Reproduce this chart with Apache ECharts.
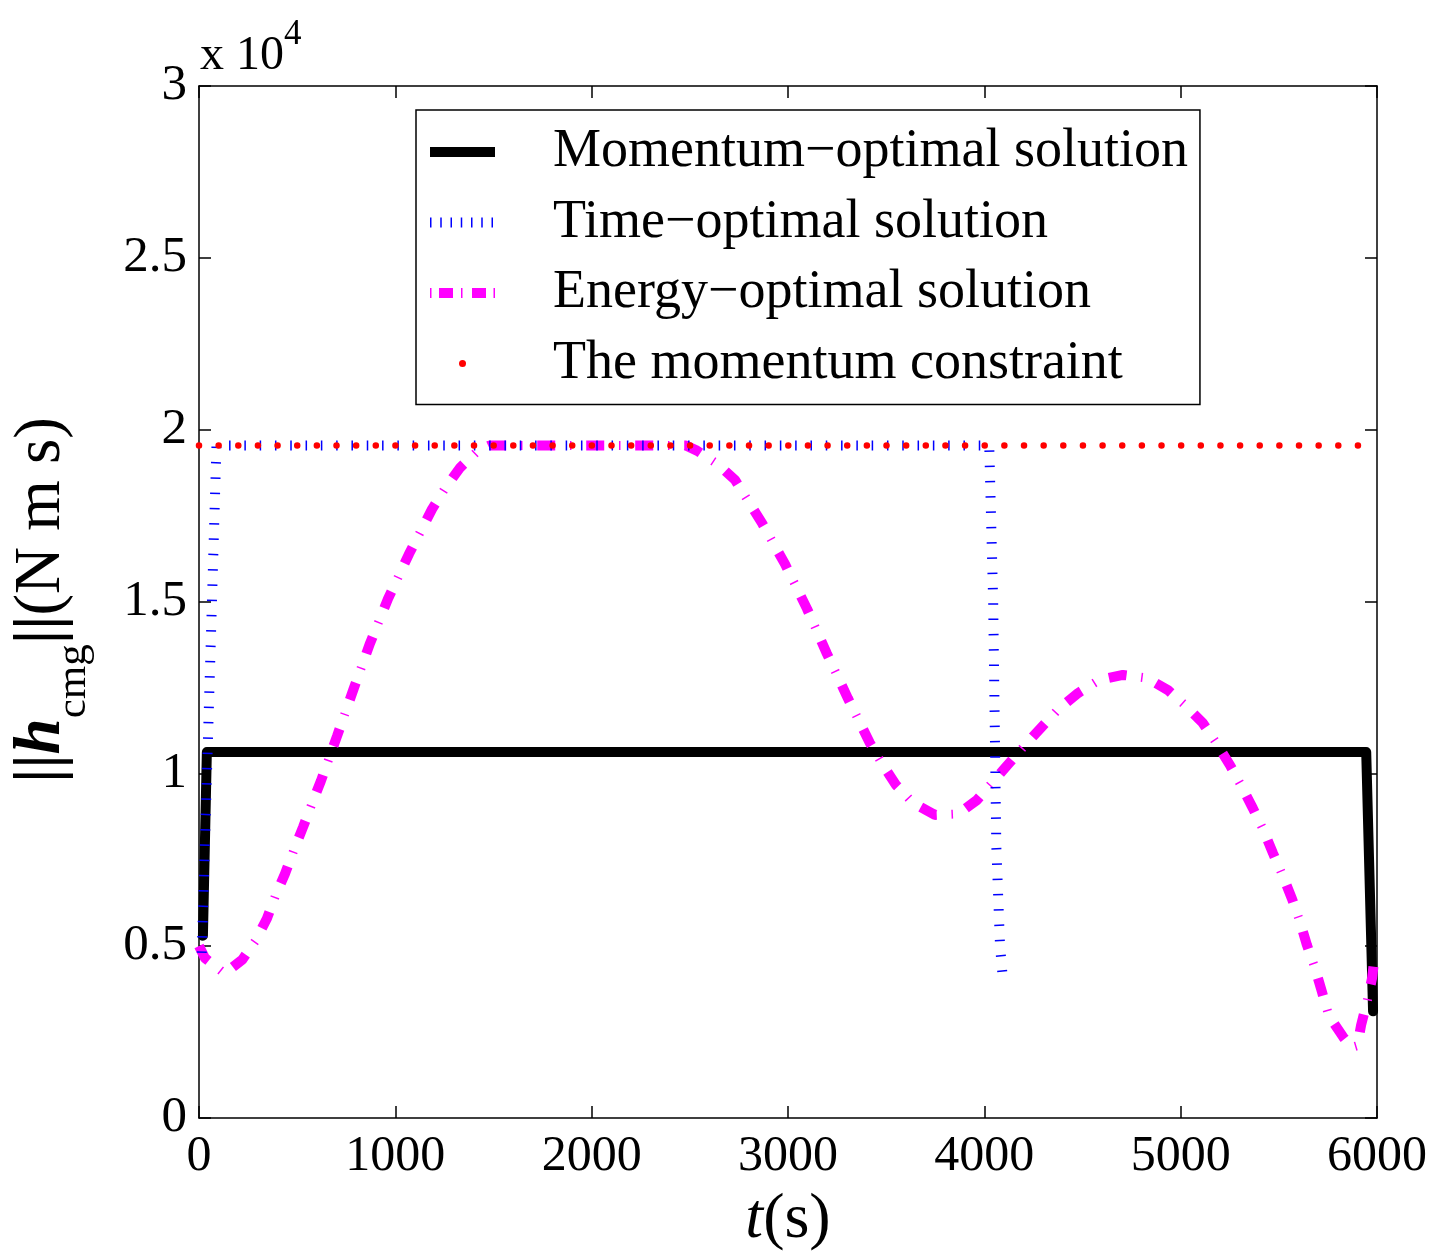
<!DOCTYPE html>
<html><head><meta charset="utf-8">
<script src="https://cdn.jsdelivr.net/npm/echarts@6/dist/echarts.min.js"></script>
<style>html,body{margin:0;padding:0;background:#fff}#c{width:1449px;height:1254px}</style>
</head><body><div id="c"></div><script>
// values of ||h_cmg|| are in units of 10^4 N m s
const xTickValues = [0, 1000, 2000, 3000, 4000, 5000, 6000];
const yTickValues = [0, 0.5, 1, 1.5, 2, 2.5, 3];
const seriesNames = ['Momentum\u2212optimal solution', 'Time\u2212optimal solution', 'Energy\u2212optimal solution', 'The momentum constraint'];

const momentumT = [20, 40, 5945, 5980];
const momentumH = [0.53, 1.064, 1.064, 0.31];

const timeT = [14, 89, 4025, 4045, 4061, 4080, 4092];
const timeH = [0.48, 1.955, 1.955, 1.5, 0.79, 0.5, 0.42];

const energyT = [0,30,130,220,290,346,392,438,484,530,575,621,703,789,871,963,1070,1187,1253,1329,1421,1480,2480,2536,2643,2730,2801,2867,2985,3097,3198,3305,3417,3479,3550,3637,3748,3866,3962,4044,4115,4212,4293,4380,4477,4584,4706,4828,4935,5032,5113,5185,5251,5312,5368,5424,5470,5521,5567,5608,5643,5684,5720,5755,5827,5870,5900,5919,5949,5975,5990];
const energyH = [0.50,0.465,0.42,0.46,0.517,0.58,0.65,0.71,0.78,0.846,0.913,0.98,1.11,1.25,1.38,1.51,1.64,1.77,1.83,1.89,1.94,1.955,1.955,1.94,1.90,1.855,1.79,1.73,1.61,1.48,1.35,1.22,1.09,1.03,0.968,0.916,0.881,0.884,0.924,0.977,1.024,1.087,1.137,1.19,1.235,1.273,1.288,1.279,1.244,1.195,1.148,1.087,1.026,0.962,0.90,0.834,0.77,0.703,0.637,0.57,0.503,0.436,0.366,0.297,0.236,0.205,0.21,0.27,0.337,0.407,0.48];

const constraintT = [0, 6000];
const constraintH = [1.955, 1.955];

const zip = (a, b) => a.map((v, i) => [v, b[i]]);
const F = 'Liberation Serif';

const axisCommon = {
  type: 'value', splitLine: { show: false },
  axisLine: { show: true, onZero: false, lineStyle: { color: '#000', width: 1.5 } },
  axisTick: { show: true, inside: true, length: 12, lineStyle: { color: '#000', width: 1.5 } }
};

const chart = echarts.init(document.getElementById('c'), null, { renderer: 'canvas' });
chart.setOption({
  animation: false,
  backgroundColor: '#fff',
  grid: { left: 199, right: 72, top: 86, bottom: 136, containLabel: false },
  xAxis: [
    Object.assign({}, axisCommon, { min: xTickValues[0], max: xTickValues[xTickValues.length - 1], interval: 1000, position: 'bottom',
      axisLabel: { fontSize: 50, fontFamily: F, color: '#000', margin: 14, formatter: v => String(v) } }),
    Object.assign({}, axisCommon, { min: xTickValues[0], max: xTickValues[xTickValues.length - 1], interval: 1000, position: 'top', axisLabel: { show: false } })
  ],
  yAxis: [
    Object.assign({}, axisCommon, { min: yTickValues[0], max: yTickValues[yTickValues.length - 1], interval: 0.5, position: 'left',
      axisLabel: { fontSize: 51, fontFamily: F, color: '#000', margin: 12, formatter: v => String(v) } }),
    Object.assign({}, axisCommon, { min: yTickValues[0], max: yTickValues[yTickValues.length - 1], interval: 0.5, position: 'right', axisLabel: { show: false } })
  ],
  legend: {
    orient: 'vertical', left: 416, top: 110, padding: [13, 12, 12, 14],
    itemWidth: 65, itemHeight: 10, itemGap: 12.5,
    borderColor: '#000', borderWidth: 1.5, backgroundColor: '#fff',
    selectedMode: false, itemStyle: { borderWidth: 0 },
    textStyle: { fontFamily: F, fontSize: 54, color: '#000', lineHeight: 58, padding: [0, 0, 0, 53] },
    data: [
      { name: seriesNames[0], icon: 'rect', itemStyle: { color: '#000' } },
      { name: seriesNames[1], icon: 'path://M0,0h1.5v10h-1.5zM10.25,0h1.5v10h-1.5zM20.5,0h1.5v10h-1.5zM30.75,0h1.5v10h-1.5zM41,0h1.5v10h-1.5zM51.25,0h1.5v10h-1.5zM61.5,0h1.5v10h-1.5zM65,10L65,10', itemStyle: { color: '#0000ff' } },
      { name: seriesNames[2], icon: 'path://M0,0h1.5v10h-1.5zM9,0h14v10h-14zM31,0h1.5v10h-1.5zM42,0h14v10h-14zM63.5,0h1.5v10h-1.5z', itemStyle: { color: '#ff00ff' } },
      { name: seriesNames[3], icon: 'path://M0,0L0,0M65,10L65,10M36,5A3.5,3.5,0,1,0,29,5A3.5,3.5,0,1,0,36,5Z', itemStyle: { color: '#ff0000' } }
    ]
  },
  series: [
    { type: 'line', name: seriesNames[0], data: zip(momentumT, momentumH), symbol: 'none', silent: true,
      itemStyle: { color: '#000' }, lineStyle: { color: '#000', width: 10, cap: 'round', join: 'round' } },
    { type: 'line', name: seriesNames[2], data: zip(energyT, energyH), symbol: 'none', silent: true,
      itemStyle: { color: '#ff00ff' }, lineStyle: { color: '#ff00ff', width: 10, type: [18, 31], cap: 'butt' } },
    { type: 'line', name: 'energy-ticks', data: zip(energyT, energyH), symbol: 'none', silent: true,
      itemStyle: { color: '#ff00ff' }, lineStyle: { color: '#ff00ff', width: 9, type: [1.5, 47.5], dashOffset: 16.25, cap: 'butt' } },
    { type: 'line', name: seriesNames[1], data: zip(timeT, timeH), symbol: 'none', silent: true,
      itemStyle: { color: '#0000ff' }, lineStyle: { color: '#0000ff', width: 10, type: [1.5, 13.8], cap: 'butt' } },
    { type: 'line', name: seriesNames[3], data: zip(constraintT, constraintH), symbol: 'none', silent: true, clip: false,
      itemStyle: { color: '#ff0000' }, lineStyle: { color: '#ff0000', width: 6.5, type: [0.01, 19.633], cap: 'round' } }
  ],
  graphic: [
    { type: 'text', x: 200, y: 56, silent: true,
      style: { text: '{m|x 10}{s|4}', align: 'left', verticalAlign: 'middle',
        rich: { m: { fontSize: 48, fontFamily: F, lineHeight: 50, fill: '#000' },
                s: { fontSize: 35, fontFamily: F, lineHeight: 35, padding: [0, 0, 43, 0], fill: '#000' } } } },
    { type: 'text', x: 788, y: 1220, silent: true,
      style: { text: '{i|t}{n|(s)}', align: 'center', verticalAlign: 'middle',
        rich: { i: { fontSize: 64, fontFamily: F, fontStyle: 'italic', fill: '#000' },
                n: { fontSize: 64, fontFamily: F, fill: '#000' } } } },
    { type: 'text', x: 42, y: 600, rotation: Math.PI / 2, silent: true,
      style: { text: '{b|||}{h|h}{s|cmg}{b|||}{n|(N m s)}', align: 'center', verticalAlign: 'middle',
        rich: { b: { fontSize: 65, fontFamily: F, fontWeight: 'bold', lineHeight: 65, fill: '#000' },
                h: { fontSize: 65, fontFamily: F, fontWeight: 'bold', fontStyle: 'italic', lineHeight: 65, fill: '#000' },
                s: { fontSize: 43, fontFamily: F, lineHeight: 43, padding: [64, 0, 0, 0], fill: '#000' },
                n: { fontSize: 65, fontFamily: F, lineHeight: 65, fill: '#000' } } } }
  ]
});
</script></body></html>
